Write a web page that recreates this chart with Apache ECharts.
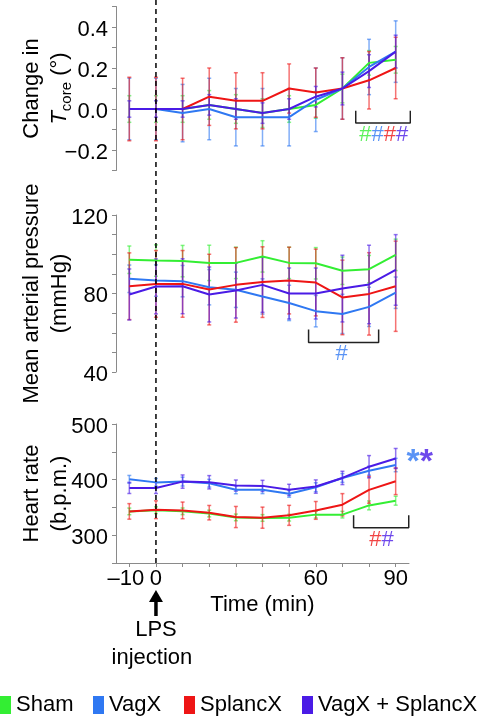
<!DOCTYPE html>
<html><head><meta charset="utf-8">
<script src="https://cdn.jsdelivr.net/npm/echarts@6/dist/echarts.min.js"></script>
<style>html,body{margin:0;padding:0;background:#fff}#c{width:478px;height:720px}</style>
</head><body><div id="c"></div>
<script>
// ---------- DATA ----------
const times = [-10, 0, 10, 20, 30, 40, 50, 60, 70, 80, 90];
const groups = ['Sham', 'VagX', 'SplancX', 'VagX + SplancX'];
const injectionTime = 0;

// Change in T core (deg)
const tcoreSham     = [0, 0, 0, 0.02, 0, -0.02, 0.0, 0.02, 0.10, 0.225, 0.24];
const tcoreVagX     = [0, 0, -0.02, 0.0, -0.04, -0.04, -0.04, 0.045, 0.10, 0.205, 0.28];
const tcoreSplancX  = [0, 0, 0, 0.06, 0.04, 0.04, 0.10, 0.08, 0.10, 0.14, 0.20];
const tcoreBoth     = [0, 0, 0, 0.02, 0, -0.02, 0.0, 0.06, 0.10, 0.185, 0.28];
const tcoreErrSham    = [0.065, 0.065, 0.065, 0.07, 0.07, 0.07, 0.065, 0.065, 0.07, 0.06, 0.065];
const tcoreErrVagX    = [0.15, 0.15, 0.14, 0.15, 0.14, 0.14, 0.14, 0.155, 0.15, 0.135, 0.15];
const tcoreErrSplancX = [0.155, 0.155, 0.15, 0.14, 0.137, 0.137, 0.12, 0.12, 0.15, 0.14, 0.15];
const tcoreErrBoth    = [0.04, 0.04, 0.04, 0.05, 0.05, 0.05, 0.05, 0.05, 0.08, 0.08, 0.08];

// Mean arterial pressure (mmHg)
const mapSham     = [97.2, 96.8, 96.5, 95.6, 95.6, 98.9, 95.6, 95.4, 91.6, 92.4, 99.7];
const mapVagX     = [87.5, 86.6, 86.3, 83.2, 81.9, 78.5, 75.2, 71.0, 69.6, 73.2, 80.4];
const mapSplancX  = [83.7, 84.9, 84.9, 82.0, 84.4, 85.8, 86.6, 85.6, 78.0, 79.8, 83.7];
const mapBoth     = [79.5, 83.6, 83.7, 79.5, 81.5, 84.4, 80.0, 80.0, 82.5, 84.6, 92.0];
const mapErrSham    = [7, 8, 8, 9, 8, 8, 8, 8, 7, 7, 8];
const mapErrVagX    = [7, 8, 8, 9, 9, 9, 9, 8, 10, 10, 8];
const mapErrSplancX = [17, 17, 17, 18, 19, 18, 17, 17, 19, 21, 23];
const mapErrBoth    = [13, 14, 14, 14, 14, 14, 13, 13, 17, 20, 18];

// Heart rate (b.p.m.)
const hrSham     = [342.8, 345, 343, 339, 332, 331, 331.5, 337, 337, 353.6, 362];
const hrVagX     = [400.5, 395, 396.4, 393.5, 381.6, 381.8, 374.4, 386.3, 403, 416, 426.2];
const hrSplancX  = [342.8, 345.8, 344.6, 340.5, 332.7, 331.5, 335.7, 344.6, 354.8, 381.6, 397];
const hrBoth     = [385, 385, 396.4, 395.2, 389.3, 388.7, 381.6, 387.5, 403, 423.2, 438];
const hrErrSham    = [6, 6, 6, 6, 6, 6, 6, 6, 6, 8, 8];
const hrErrVagX    = [7, 7, 8, 7, 7, 7, 6, 8, 8, 8, 12];
const hrErrSplancX = [14, 16, 15, 13, 19, 19, 18, 16, 20, 24, 24];
const hrErrBoth    = [10, 10, 12, 12, 10, 10, 10, 12, 12, 20, 18];

// tick labels
const tcoreLabels = [-0.2, 0, 0.2, 0.4];
const mapLabels = [40, 80, 120];
const hrLabels = [300, 400, 500];
const timeTicks = [-10, 0, 10, 20, 30, 40, 50, 60, 70, 80, 90];
const timeLabels = [-10, 0, 60, 90];

// significance annotations (data coords)
const bracketTcore = [[75, -0.008], [75, -0.068], [95.5, -0.068], [95.5, -0.008]];
const bracketMap = [[57.3, 61.7], [57.3, 55], [83.6, 55], [83.6, 61.7]];
const bracketHr = [[74.2, 336], [74.2, 313.5], [94.9, 313.5], [94.9, 336]];
const hashTcore = [85.5, -0.127];
const hashMap = [69.7, 49.4];
const hashHr = [84.7, 291.4];
const starsHr = [99, 430];

// ---------- STYLE ----------
const colors = ['#33ee33', '#2f78f2', '#ee1515', '#4a1be6'];
const legendLeft = [0, 93, 184, 302];
const FONT = '"Liberation Sans", Arial, sans-serif';
const FS = 22;

const chart = echarts.init(document.getElementById('c'), null, {renderer: 'canvas'});

function fmtNum(v, dec) {
  const s = Math.abs(v).toFixed(dec);
  return (v < -1e-9 ? '\u2212' : '') + s;
}
function yFormatter(labels, dec) {
  return function (v) {
    for (const l of labels) if (Math.abs(v - l) < 1e-6) return '{a|' + fmtNum(l, dec) + '}';
    return '';
  };
}

const grids = [
  {left: 116, right: 69, top: 6.5, height: 164, outerBoundsMode: 'none', containLabel: false},
  {left: 116, right: 69, top: 215, height: 157, outerBoundsMode: 'none', containLabel: false},
  {left: 116, right: 69, top: 424, height: 139, outerBoundsMode: 'none', containLabel: false},
  {left: 116, right: 69, top: 0, height: 563, outerBoundsMode: 'none', containLabel: false}
];

const axisLineStyle = {color: '#8a8a8a', width: 1};
function yAxisCommon(gi, min, max, interval, labels, dec, name) {
  return {
    type: 'value', gridIndex: gi, min: min, max: max, interval: interval,
    axisLine: {show: true, onZero: false, lineStyle: axisLineStyle},
    axisTick: {show: true, length: 4, lineStyle: {color: '#8a8a8a'}},
    splitLine: {show: false},
    axisLabel: {formatter: yFormatter(labels, dec), color: '#000', fontSize: FS, fontFamily: FONT, margin: 8,
      rich: {a: {fontSize: FS, fontFamily: FONT, color: '#000', padding: [5, 0, 0, 0]}}},
    name: name, nameLocation: 'middle', nameRotate: 90, nameGap: 42, nameMoveOverlap: false,
    nameTextStyle: {
      color: '#000', fontSize: FS, fontFamily: FONT, lineHeight: 28, align: 'center',
      rich: {
        i: {fontStyle: 'italic', fontSize: FS, fontFamily: FONT, color: '#000', lineHeight: 28},
        s: {fontSize: 15, fontFamily: FONT, color: '#000', lineHeight: 15, verticalAlign: 'bottom'},
        n: {fontSize: FS, fontFamily: FONT, color: '#000', lineHeight: 28}
      }
    }
  };
}

const xAxes = [0, 1, 2, 3].map(function (gi) {
  const shown = gi === 2;
  return {
    type: 'value', gridIndex: gi, min: -15, max: 95,
    show: shown,
    axisLine: {show: shown, onZero: false, lineStyle: axisLineStyle},
    axisTick: {show: shown, length: 4, customValues: timeTicks, lineStyle: {color: '#8a8a8a'}},
    splitLine: {show: false},
    axisLabel: {show: shown, customValues: timeLabels,
      formatter: function (v) { return v < 0 ? '{n|\u2013' + Math.abs(v) + '}' : String(v); },
      rich: {n: {fontSize: FS, fontFamily: FONT, color: '#000', padding: [0, 7, 0, 0]}},
      color: '#000', fontSize: FS, fontFamily: FONT, margin: 5},
    name: shown ? 'Time (min)' : '', nameLocation: 'middle', nameGap: 31, nameMoveOverlap: false,
    nameTextStyle: {color: '#000', fontSize: FS, fontFamily: FONT}
  };
});

const yAxes = [
  yAxisCommon(0, -0.3, 0.5, 0.1, tcoreLabels, 1, '{n|Change in}\n{i|T}{s|core}{n| (\u00b0)}'),
  yAxisCommon(1, 40, 120, 10, mapLabels, 0, 'Mean arterial pressure\n(mmHg)'),
  yAxisCommon(2, 250, 500, 50, hrLabels, 0, 'Heart rate\n(b.p.m.)'),
  {type: 'value', gridIndex: 3, min: 0, max: 1, show: false}
];

const panels = [
  {vals: [tcoreSham, tcoreVagX, tcoreSplancX, tcoreBoth], errs: [tcoreErrSham, tcoreErrVagX, tcoreErrSplancX, tcoreErrBoth]},
  {vals: [mapSham, mapVagX, mapSplancX, mapBoth], errs: [mapErrSham, mapErrVagX, mapErrSplancX, mapErrBoth]},
  {vals: [hrSham, hrVagX, hrSplancX, hrBoth], errs: [hrErrSham, hrErrVagX, hrErrSplancX, hrErrBoth]}
];

const series = [];
panels.forEach(function (p, gi) {
  p.vals.forEach(function (vals, si) {
    const col = colors[si];
    series.push({
      type: 'custom', name: groups[si] + ' err', xAxisIndex: gi, yAxisIndex: gi, z: 2,
      silent: true,
      data: times.map(function (t, i) { return [t, vals[i], p.errs[si][i]]; }),
      encode: {x: 0, y: 1},
      renderItem: function (params, api) {
        const x = api.value(0), y = api.value(1), e = api.value(2);
        const a = api.coord([x, y + e]), b = api.coord([x, y - e]);
        const st = {stroke: col, lineWidth: 1.5, opacity: 0.6};
        return {type: 'group', children: [
          {type: 'line', shape: {x1: a[0], y1: a[1], x2: b[0], y2: b[1]}, style: st},
          {type: 'line', shape: {x1: a[0] - 2, y1: a[1], x2: a[0] + 2, y2: a[1]}, style: st},
          {type: 'line', shape: {x1: b[0] - 2, y1: b[1], x2: b[0] + 2, y2: b[1]}, style: st}
        ]};
      }
    });
  });
  p.vals.forEach(function (vals, si) {
    series.push({
      type: 'line', name: groups[si], xAxisIndex: gi, yAxisIndex: gi, z: 3,
      color: colors[si], showSymbol: false, symbol: 'none',
      lineStyle: {width: 2, color: colors[si]},
      data: times.map(function (t, i) { return [t, vals[i]]; })
    });
  });
});

[[bracketTcore, 0], [bracketMap, 1], [bracketHr, 2]].forEach(function (b) {
  series.push({
    type: 'line', xAxisIndex: b[1], yAxisIndex: b[1], z: 4, symbol: 'none', showSymbol: false,
    lineStyle: {color: '#222', width: 1.5}, data: b[0], clip: false, silent: true
  });
});

function textSeries(gi, pos, formatter, rich) {
  return {
    type: 'scatter', xAxisIndex: gi, yAxisIndex: gi, z: 5, symbolSize: 0, clip: false, silent: true,
    data: [pos],
    label: {show: true, position: 'inside', formatter: formatter, rich: rich}
  };
}
function hashStyle(c) { return {color: c, fontSize: 22, fontFamily: FONT}; }
series.push(textSeries(0, hashTcore, '{g|#}{b|#}{r|#}{p|#}',
  {g: hashStyle(colors[0]), b: hashStyle(colors[1]), r: hashStyle(colors[2]), p: hashStyle(colors[3])}));
series.push(textSeries(1, hashMap, '{b|#}', {b: hashStyle(colors[1])}));
series.push(textSeries(2, hashHr, '{r|#}{p|#}', {r: hashStyle(colors[2]), p: hashStyle(colors[3])}));
function starStyle(c) { return {color: c, fontSize: 34, fontWeight: 'bold', fontFamily: FONT}; }
series.push(textSeries(2, starsHr, '{b|*}{p|*}', {b: starStyle(colors[1]), p: starStyle(colors[3])}));

series.push({
  type: 'custom', xAxisIndex: 2, yAxisIndex: 2, z: 5, silent: true, clip: false,
  data: [[injectionTime, 250]],
  renderItem: function (params, api) {
    const p = api.coord([api.value(0), api.value(1)]);
    return {type: 'group', children: [
      {type: 'line', shape: {x1: p[0], y1: p[1] + 34, x2: p[0], y2: p[1] + 53}, style: {stroke: '#000', lineWidth: 3.5}},
      {type: 'polygon', shape: {points: [[p[0], p[1] + 27], [p[0] - 7, p[1] + 39], [p[0] + 7, p[1] + 39]]}, style: {fill: '#000'}},
      {type: 'text', style: {text: 'LPS', x: p[0], y: p[1] + 67, align: 'center', verticalAlign: 'middle', fill: '#000', fontSize: FS, fontFamily: FONT}},
      {type: 'text', style: {text: 'injection', x: p[0] - 4, y: p[1] + 95, align: 'center', verticalAlign: 'middle', fill: '#000', fontSize: FS, fontFamily: FONT}}
    ]};
  }
});

series.push({
  type: 'line', xAxisIndex: 3, yAxisIndex: 3, z: 6, symbol: 'none', showSymbol: false, silent: true,
  lineStyle: {color: '#000', width: 1.5, type: [5, 4]},
  data: [[injectionTime, 0], [injectionTime, 1]]
});

const legends = groups.map(function (g, i) {
  return {
    data: [{name: g, itemStyle: {color: colors[i]}}],
    left: legendLeft[i], top: 694, padding: 0, icon: 'rect', itemWidth: 11, itemHeight: 18,
    textStyle: {color: '#000', fontSize: FS, fontFamily: FONT},
    selectedMode: false
  };
});

chart.setOption({
  animation: false,
  backgroundColor: '#fff',
  grid: grids,
  xAxis: xAxes,
  yAxis: yAxes,
  legend: legends,
  series: series
});
</script>
</body></html>
